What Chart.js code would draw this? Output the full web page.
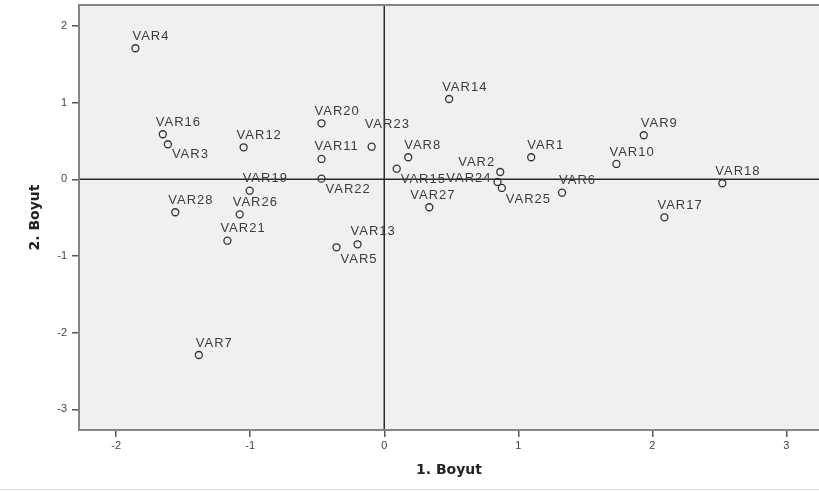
<!DOCTYPE html>
<html>
<head>
<meta charset="utf-8">
<script src="https://cdn.jsdelivr.net/npm/chart.js@4"></script>
<style>
  html, body { margin: 0; padding: 0; background: #ffffff; }
  #wrap { width: 819px; height: 491px; }
</style>
</head>
<body>
<div id="wrap"><canvas id="c" width="819" height="491"></canvas></div>
<script>
// ---- data ----
const labels = ["VAR1","VAR2","VAR3","VAR4","VAR5","VAR6","VAR7","VAR8","VAR9","VAR10",
                "VAR11","VAR12","VAR13","VAR14","VAR15","VAR16","VAR17","VAR18","VAR19","VAR20",
                "VAR21","VAR22","VAR23","VAR24","VAR25","VAR26","VAR27","VAR28"];
const dim1 = [1.096, 0.865, -1.614, -1.856, -0.356, 1.326, -1.383, 0.179, 1.936, 1.732,
              -0.468, -1.049, -0.199, 0.484, 0.093, -1.652, 2.090, 2.522, -1.004, -0.468,
              -1.170, -0.468, -0.094, 0.845, 0.877, -1.078, 0.336, -1.559];
const dim2 = [0.287, 0.095, 0.457, 1.709, -0.887, -0.175, -2.292, 0.287, 0.574, 0.200,
              0.265, 0.417, -0.848, 1.047, 0.138, 0.587, -0.496, -0.052, -0.149, 0.730,
              -0.801, 0.008, 0.425, -0.035, -0.113, -0.457, -0.365, -0.430];
const xTitle = "1. Boyut";
const yTitle = "2. Boyut";

// ---- label placement (style only): [dx, dy, align] relative to point ----
const labelPlacement = {
  VAR1: [-4, -12, "left"], VAR2: [-5, -10, "right"], VAR3: [4, 10, "left"],
  VAR4: [-3, -12, "left"], VAR5: [4, 12, "left"], VAR6: [-3, -12, "left"],
  VAR7: [-3, -12, "left"], VAR8: [-4, -12, "left"], VAR9: [-3, -12, "left"],
  VAR13: [-7, -13, "left"], VAR11: [-7, -13, "left"], VAR15: [4, 11, "left"],
  VAR22: [4, 11, "left"], VAR23: [-7, -22, "left"], VAR24: [-6, -4, "right"],
  VAR25: [4, 11, "left"], VAR27: [-19, -12, "left"]
};
const defaultPlacement = [-7, -12, "left"];

const points = dim1.map((x, i) => ({ x: x, y: dim2[i] }));

const spssPlugin = {
  id: "spss",
  beforeDraw(chart) {
    const { ctx, chartArea: a } = chart;
    ctx.save();
    ctx.fillStyle = "#f0f0f0";
    ctx.fillRect(a.left, a.top, a.right - a.left, a.bottom - a.top);
    ctx.strokeStyle = "#dcdcdc";
    ctx.lineWidth = 1;
    ctx.beginPath();
    ctx.moveTo(0, 489.5);
    ctx.lineTo(chart.width, 489.5);
    ctx.stroke();
    ctx.restore();
  },
  beforeDatasetsDraw(chart) {
    const { ctx, chartArea: a, scales } = chart;
    ctx.save();
    const x0 = scales.x.getPixelForValue(0);
    const y0 = scales.y.getPixelForValue(0);
    ctx.strokeStyle = "#2a2a2a";
    ctx.lineWidth = 1.5;
    ctx.beginPath();
    ctx.moveTo(x0, a.top); ctx.lineTo(x0, a.bottom);
    ctx.moveTo(a.left, y0); ctx.lineTo(a.right, y0);
    ctx.stroke();
    // frame: top, left, bottom (right edge runs off the picture)
    ctx.strokeStyle = "#858585";
    ctx.lineWidth = 2;
    ctx.beginPath();
    ctx.moveTo(a.right + 2, a.top);
    ctx.lineTo(a.left, a.top);
    ctx.lineTo(a.left, a.bottom);
    ctx.lineTo(a.right + 2, a.bottom);
    ctx.stroke();
    ctx.restore();
  },
  afterDatasetsDraw(chart) {
    const { ctx } = chart;
    const meta = chart.getDatasetMeta(0);
    ctx.save();
    ctx.font = "13px 'Liberation Sans', Arial, sans-serif";
    try { ctx.letterSpacing = "1px"; } catch (e) {}
    ctx.fillStyle = "#3c3c3c";
    ctx.textBaseline = "middle";
    meta.data.forEach((el, i) => {
      const name = labels[i];
      const p = labelPlacement[name] || defaultPlacement;
      ctx.textAlign = p[2];
      ctx.fillText(name, el.x + p[0], el.y + p[1]);
    });
    ctx.restore();
  }
};

new Chart(document.getElementById("c"), {
  type: "scatter",
  data: {
    datasets: [{
      data: points,
      pointStyle: "circle",
      pointRadius: 3.5,
      pointHoverRadius: 3.5,
      pointBorderWidth: 1.3,
      borderColor: "#333333",
      backgroundColor: "rgba(0,0,0,0)"
    }]
  },
  options: {
    responsive: false,
    animation: false,
    events: [],
    layout: { autoPadding: false, padding: { top: 5, right: 0, left: 0, bottom: 0 } },
    plugins: { legend: { display: false }, tooltip: { enabled: false } },
    scales: {
      x: {
        type: "linear",
        min: -2.277,
        max: 3.243,
        afterFit(s) { s.height = 61; s.paddingLeft = 0; s.paddingRight = 0; },
        border: { display: false },
        grid: { display: true, drawOnChartArea: false, drawTicks: true, tickLength: 7, color: "#555555", lineWidth: 1.5 },
        ticks: { stepSize: 1, includeBounds: false, padding: 2, color: "#444444",
                 font: { family: "'Liberation Sans', Arial, sans-serif", size: 11 } },
        title: { display: true, text: xTitle, color: "#222222", padding: { top: 0, bottom: 12.6 },
                 font: { family: "'DejaVu Sans', sans-serif", size: 14, weight: "bold" } }
      },
      y: {
        type: "linear",
        min: -3.27,
        max: 2.273,
        afterFit(s) { s.width = 79; s.paddingTop = 0; s.paddingBottom = 0; },
        border: { display: false },
        grid: { display: true, drawOnChartArea: false, drawTicks: true, tickLength: 7, color: "#555555", lineWidth: 1.5 },
        ticks: { stepSize: 1, includeBounds: false, padding: 5, color: "#444444",
                 font: { family: "'Liberation Sans', Arial, sans-serif", size: 11 } },
        title: { display: true, text: yTitle, color: "#222222", padding: { top: 26.6, bottom: 0 },
                 font: { family: "'DejaVu Sans', sans-serif", size: 14, weight: "bold" } }
      }
    }
  },
  plugins: [spssPlugin]
});
</script>
</body>
</html>
